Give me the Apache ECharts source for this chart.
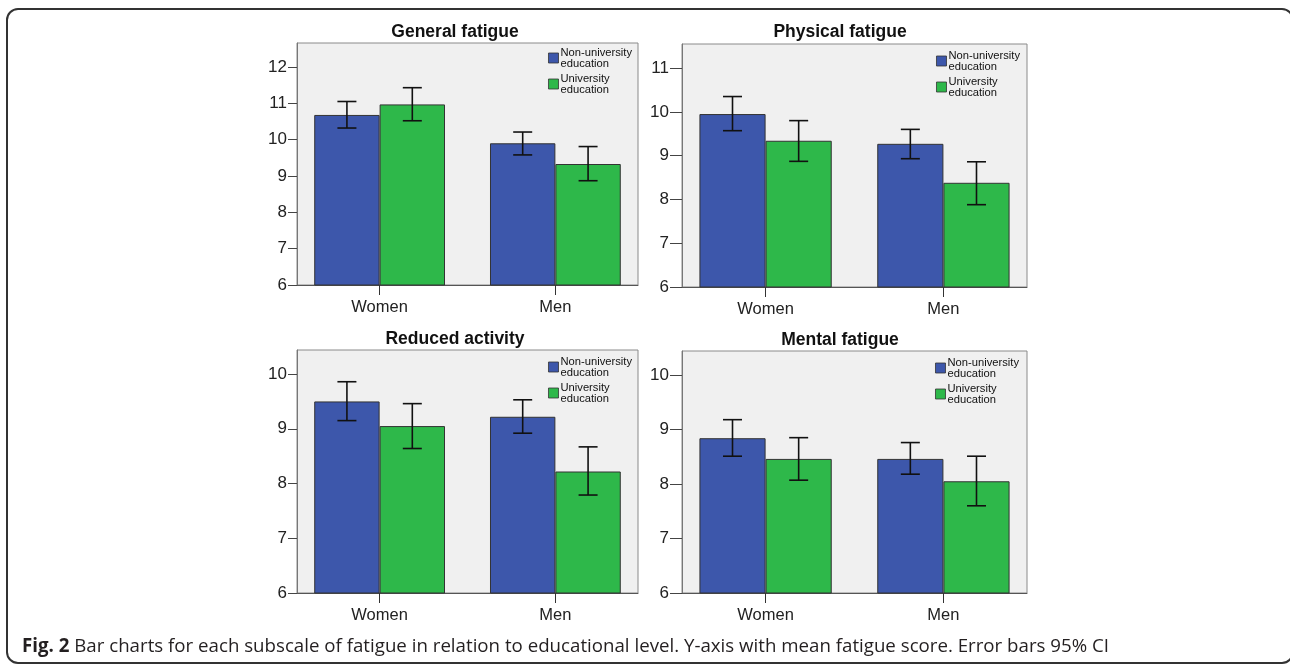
<!DOCTYPE html>
<html>
<head>
<meta charset="utf-8">
<script src="https://cdn.jsdelivr.net/npm/echarts@6/dist/echarts.min.js"></script>
<style>
  html, body { margin: 0; padding: 0; background: #fff; overflow: hidden; }
  #frame { position: absolute; left: 6px; top: 8px; width: 1288px; height: 656px;
           border: 2px solid #333; border-radius: 12px; box-sizing: border-box; }
  #chart { position: absolute; left: 0; top: 0; width: 1290px; height: 666px; }
  #caption { position: absolute; left: 22px; top: 632px; font-family: "Open Sans", sans-serif;
             font-size: 18.7px; line-height: 25px; color: #231f20; white-space: nowrap; }
  #caption b { font-weight: 700; }
</style>
</head>
<body>
<div id="frame"></div>
<div id="chart"></div>
<div id="caption"><b>Fig. 2</b> Bar charts for each subscale of fatigue in relation to educational level. Y-axis with mean fatigue score. Error bars 95% CI</div>
<script>
// ---------- data ----------
const categories = ['Women', 'Men'];
const seriesNames = ['Non-university education', 'University education'];
const panelTitles = ['General fatigue', 'Physical fatigue', 'Reduced activity', 'Mental fatigue'];

// means
const generalNonUni = [10.68, 9.90];
const generalUni = [10.97, 9.33];
const physicalNonUni = [9.95, 9.27];
const physicalUni = [9.34, 8.38];
const reducedNonUni = [9.50, 9.22];
const reducedUni = [9.05, 8.22];
const mentalNonUni = [8.84, 8.46];
const mentalUni = [8.46, 8.05];

// 95% CI [low, high]
const generalNonUniCI = [[10.32, 11.05], [9.58, 10.21]];
const generalUniCI = [[10.52, 11.43], [8.87, 9.81]];
const physicalNonUniCI = [[9.57, 10.35], [8.93, 9.60]];
const physicalUniCI = [[8.87, 9.80], [7.88, 8.86]];
const reducedNonUniCI = [[9.15, 9.86], [8.92, 9.53]];
const reducedUniCI = [[8.64, 9.46], [7.79, 8.67]];
const mentalNonUniCI = [[8.51, 9.18], [8.18, 8.76]];
const mentalUniCI = [[8.07, 8.85], [7.60, 8.51]];

// y axes
const yMin = 6;
const yMaxes = [12.66, 11.55, 10.44, 10.44];
const yTicksGeneral = [6, 7, 8, 9, 10, 11, 12];
const yTicksPhysical = [6, 7, 8, 9, 10, 11];
const yTicksReduced = [6, 7, 8, 9, 10];
const yTicksMental = [6, 7, 8, 9, 10];

// ---------- layout ----------
const X_MIN = -0.47, X_MAX = 1.47;     // category positions 0 and 1 with SPSS-like outer margins
const BAR_FRAC = 0.372;                // bar width as fraction of category spacing
const panels = [
  { nonUni: generalNonUni, uni: generalUni, nonUniCI: generalNonUniCI, uniCI: generalUniCI, ticks: yTicksGeneral,
    grid: { left: 297, top: 43, width: 341, height: 242 }, titleX: 455, titleY: 23, legendTop: 47, legendRight: 658, tickLen: 9 },
  { nonUni: physicalNonUni, uni: physicalUni, nonUniCI: physicalNonUniCI, uniCI: physicalUniCI, ticks: yTicksPhysical,
    grid: { left: 682, top: 44, width: 345, height: 243 }, titleX: 840, titleY: 23, legendTop: 50, legendRight: 270, tickLen: 12 },
  { nonUni: reducedNonUni, uni: reducedUni, nonUniCI: reducedNonUniCI, uniCI: reducedUniCI, ticks: yTicksReduced,
    grid: { left: 297, top: 350, width: 341, height: 243 }, titleX: 455, titleY: 330, legendTop: 356, legendRight: 658, tickLen: 9 },
  { nonUni: mentalNonUni, uni: mentalUni, nonUniCI: mentalNonUniCI, uniCI: mentalUniCI, ticks: yTicksMental,
    grid: { left: 682, top: 351, width: 345, height: 242 }, titleX: 840, titleY: 331, legendTop: 357, legendRight: 271, tickLen: 12 }
];

const BLUE = '#3d57ab';
const GREEN = '#2eb84a';
const FONT = 'Liberation Sans, Arial, sans-serif';

function errorRenderer(side, barW) {
  return function (params, api) {
    const ci = api.value(0);
    const lo = api.coord([ci, api.value(1)]);
    const hi = api.coord([ci, api.value(2)]);
    const x = lo[0] + side * barW / 2;
    const half = 9.5;
    const style = { stroke: '#111', lineWidth: 1.6 };
    return {
      type: 'group',
      children: [
        { type: 'line', shape: { x1: x, y1: lo[1], x2: x, y2: hi[1] }, style: style },
        { type: 'line', shape: { x1: x - half, y1: hi[1], x2: x + half, y2: hi[1] }, style: style },
        { type: 'line', shape: { x1: x - half, y1: lo[1], x2: x + half, y2: lo[1] }, style: style }
      ]
    };
  };
}

const option = {
  animation: false,
  backgroundColor: 'transparent',
  title: [], legend: [], grid: [], xAxis: [], yAxis: [], series: []
};

const catIdx = categories.map(function (c, k) { return k; });

panels.forEach(function (p, i) {
  const barW = p.grid.width / (X_MAX - X_MIN) * BAR_FRAC;
  option.title.push({
    text: panelTitles[i], left: p.titleX, top: p.titleY, textAlign: 'center', padding: 0,
    textStyle: { fontFamily: FONT, fontSize: 17.5, fontWeight: 'bold', color: '#111' }
  });
  option.legend.push({
    data: seriesNames, orient: 'vertical', right: p.legendRight, top: p.legendTop, padding: 0,
    itemGap: 4, itemWidth: 10, itemHeight: 10, icon: 'rect', selectedMode: false,
    formatter: function (name) { return name.replace(' ', '\n'); },
    itemStyle: { borderColor: '#333', borderWidth: 0.8 },
    textStyle: { fontFamily: FONT, fontSize: 11.2, lineHeight: 11, color: '#111', padding: [0, 0, 0, -3] }
  });
  option.grid.push(Object.assign({
    show: true, backgroundColor: '#f0f0f0', borderColor: '#8a8a8a', borderWidth: 1, containLabel: false
  }, p.grid));
  option.xAxis.push({
    type: 'value', gridIndex: i, min: X_MIN, max: X_MAX,
    axisLine: { show: true, onZero: false, lineStyle: { color: '#555', width: 1 } },
    axisTick: { show: true, length: 10, customValues: catIdx, lineStyle: { color: '#333' } },
    axisLabel: { fontFamily: FONT, fontSize: 16.5, color: '#222', margin: 14, customValues: catIdx,
                 formatter: function (v) { return categories[Math.round(v)]; } },
    splitLine: { show: false }
  });
  option.yAxis.push({
    type: 'value', gridIndex: i, min: yMin, max: yMaxes[i],
    axisLine: { show: true, onZero: false, lineStyle: { color: '#777', width: 1 } },
    axisTick: { show: true, length: p.tickLen, customValues: p.ticks, lineStyle: { color: '#444' } },
    axisLabel: { fontFamily: FONT, fontSize: 17, color: '#222', margin: p.tickLen + 1, customValues: p.ticks },
    splitLine: { show: false }
  });
  option.series.push({
    name: seriesNames[0], type: 'bar', xAxisIndex: i, yAxisIndex: i,
    data: p.nonUni.map(function (v, k) { return [catIdx[k], v]; }),
    barWidth: barW, barGap: '0%',
    itemStyle: { color: BLUE, borderColor: '#333', borderWidth: 1 }
  });
  option.series.push({
    name: seriesNames[1], type: 'bar', xAxisIndex: i, yAxisIndex: i,
    data: p.uni.map(function (v, k) { return [catIdx[k], v]; }),
    barWidth: barW, barGap: '0%',
    itemStyle: { color: GREEN, borderColor: '#333', borderWidth: 1 }
  });
  option.series.push({
    type: 'custom', xAxisIndex: i, yAxisIndex: i, z: 10,
    renderItem: errorRenderer(-1, barW),
    encode: { x: 0, y: [1, 2] },
    data: p.nonUniCI.map(function (d, k) { return [catIdx[k], d[0], d[1]]; })
  });
  option.series.push({
    type: 'custom', xAxisIndex: i, yAxisIndex: i, z: 10,
    renderItem: errorRenderer(1, barW),
    encode: { x: 0, y: [1, 2] },
    data: p.uniCI.map(function (d, k) { return [catIdx[k], d[0], d[1]]; })
  });
});

const chart = echarts.init(document.getElementById('chart'), null, { renderer: 'canvas' });
chart.setOption(option);
</script>
</body>
</html>
